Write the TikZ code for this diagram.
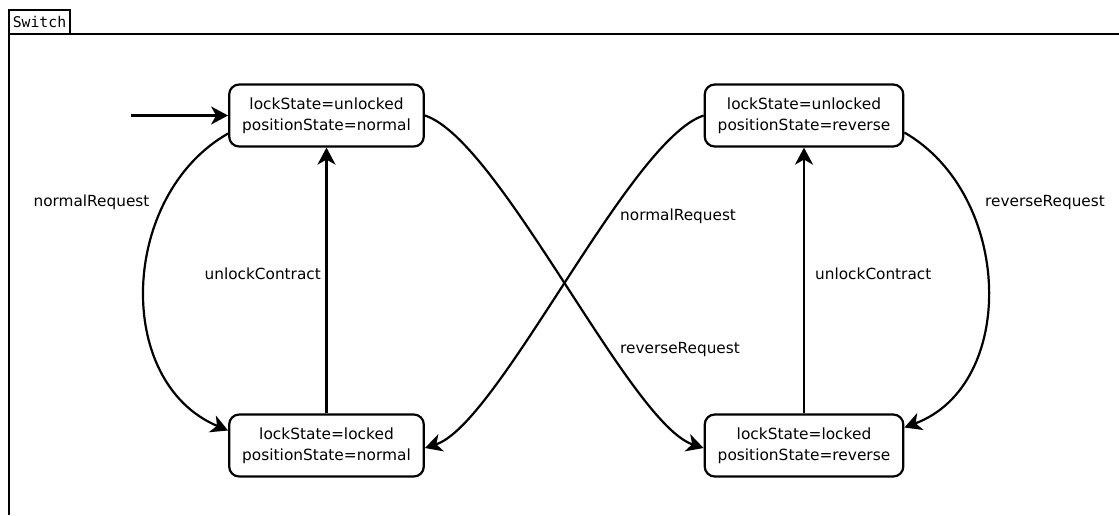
\documentclass[tikz,border=0pt]{standalone}
\usepackage{fontspec}
\setmainfont{DejaVu Sans}
\newfontfamily\swmono{DejaVu Sans Mono}
\usetikzlibrary{arrows.meta}
\begin{document}
\begin{tikzpicture}[x=1pt,y=-1pt,
  statebox/.style={draw, line width=2.2pt, rounded corners=10pt, align=center,
    inner xsep=13pt, inner ysep=0pt, minimum height=62pt,
    font=\fontsize{15.4}{21}\selectfont},
  trans/.style={line width=2.2pt, -{Stealth[length=17pt,width=18pt,inset=5pt]}},
  lbl/.style={inner sep=0pt, font=\fontsize{15.3}{18}\selectfont},
  frameline/.style={line width=2.2pt}
]
\useasboundingbox (0,0) rectangle (1119,515);
\node[draw, line width=2.2pt, anchor=north west, outer sep=0pt, minimum width=61pt,
  minimum height=24pt, inner sep=0pt, text depth=0pt,
  font=\swmono\fontsize{14.8}{16}\selectfont]
  (sw) at (9,10) {Switch};
\coordinate (fbottom) at (9,515);
\coordinate (fright) at (1119,0);
\draw[frameline] (sw.south west) -- (fbottom);
\draw[frameline] (sw.south west) -- (sw.south west -| fright);

\node[statebox] (A) at (326.5,115.5) {lockState=unlocked\\positionState=normal};
\node[statebox] (B) at (804,115.5) {lockState=unlocked\\positionState=reverse};
\node[statebox] (C) at (326.5,445.5) {lockState=locked\\positionState=normal};
\node[statebox] (D) at (804,445.5) {lockState=locked\\positionState=reverse};

\coordinate (init) at (131,115.5);
\draw[trans] (init) -- (A.west);

\draw[trans] (C.north) -- (A.south);
\draw[trans] (D.north) -- (B.south);

\draw[trans] ([yshift=-18pt]A.west) .. controls (120,195) and (113,382) .. ([yshift=15pt]C.west);
\draw[trans] ([yshift=-17pt]B.east) .. controls (1013,195) and (1018,385) .. ([yshift=18pt]D.east);

\draw[trans] (A.east) .. controls (500,140) and (630,424) .. ([yshift=-2.5pt]D.west);
\draw[trans] (B.west) .. controls (629,140) and (499,424) .. ([yshift=-2.5pt]C.east);

\node[lbl, anchor=base] (l1) at (91.5,206.5) {normalRequest};
\node[lbl, anchor=base east] (l2) at (321,279.5) {unlockContract};
\node[lbl, anchor=base west] (l3) at (620,220) {normalRequest};
\node[lbl, anchor=base west] (l4) at (620,353) {reverseRequest};
\node[lbl, anchor=base west] (l5) at (815,279.5) {unlockContract};
\node[lbl, anchor=base west] (l6) at (985,206.5) {reverseRequest};
\end{tikzpicture}
\end{document}
